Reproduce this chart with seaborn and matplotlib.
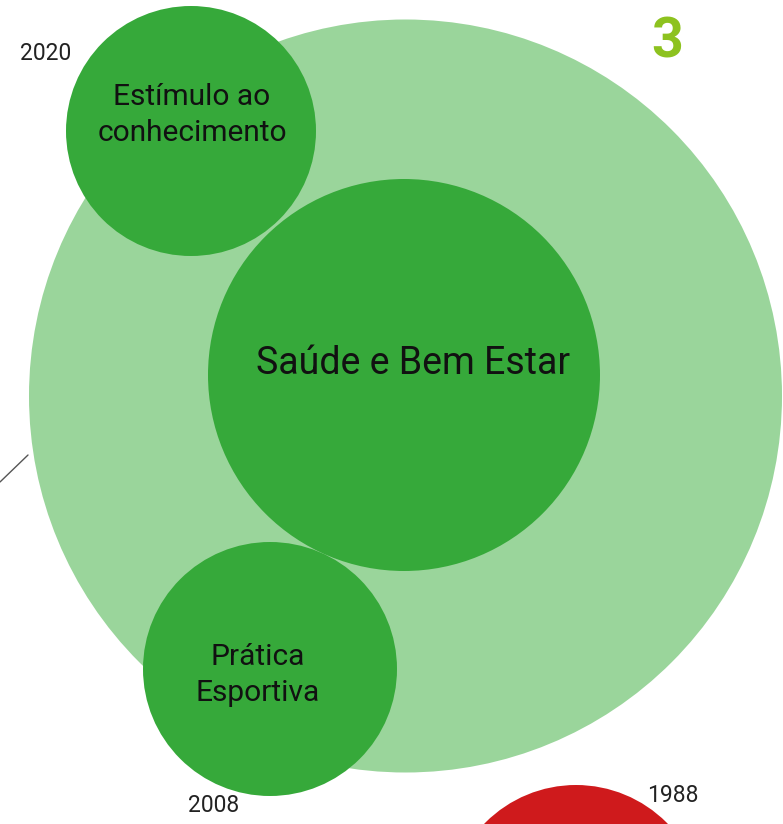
import matplotlib
matplotlib.use("Agg")
import matplotlib.pyplot as plt
import seaborn as sns
import pandas as pd

sns.set_theme(style="white")
plt.rcParams['font.family'] = ['Roboto', 'DejaVu Sans']

# circle data (pixel-space coordinates, y downwards)
names = ["Saúde (grupo)", "Estímulo ao\nconhecimento", "Saúde e Bem Estar", "Prática\nEsportiva", "1988"]
cx = [405.5, 191, 404, 270, 576]
cy = [396, 131, 375, 669, 913]
radius = [376.5, 125, 196, 127, 128]
colors = ["#9AD59B", "#36A93A", "#36A93A", "#36A93A", "#CF1A1C"]

labels = ["Estímulo ao\nconhecimento", "Saúde e Bem Estar", "Prática\nEsportiva"]
label_x = [192, 413, 258]
label_y = [115, 363, 675]
label_size = [21.5, 27, 21.5]

years = ["2020", "2008", "1988"]
year_x = [46, 214, 673]
year_y = [53, 806, 796]

line_x = [0, 28]
line_y = [482, 455]

W, H, DPI = 783, 824, 100
fig = plt.figure(figsize=(W / DPI, H / DPI), dpi=DPI)
ax = fig.add_axes([0, 0, 1, 1])

df = pd.DataFrame({"x": cx, "y": cy, "r": radius, "name": names})
sizes = [(2 * r * 72 / DPI) ** 2 for r in radius]
sns.scatterplot(data=df, x="x", y="y", hue="name", palette=dict(zip(names, colors)),
                s=sizes, linewidth=0, legend=False, ax=ax, alpha=1)

sns.lineplot(x=line_x, y=line_y, color="#555555", linewidth=1, ax=ax)

ax.set_xlim(0, W)
ax.set_ylim(H, 0)
ax.set_axis_off()

for t, x, y, fs in zip(labels, label_x, label_y, label_size):
    ax.text(x, y, t, ha="center", va="center", fontsize=fs, color="#111111", linespacing=1.35)

for t, x, y in zip(years, year_x, year_y):
    ax.text(x, y, t, ha="center", va="center", fontsize=16.5, color="#222222")

ax.text(667, 42, "3", ha="center", va="center", fontsize=40, fontweight="bold", color="#8DC21F")

fig.savefig("out.png", dpi=DPI)
